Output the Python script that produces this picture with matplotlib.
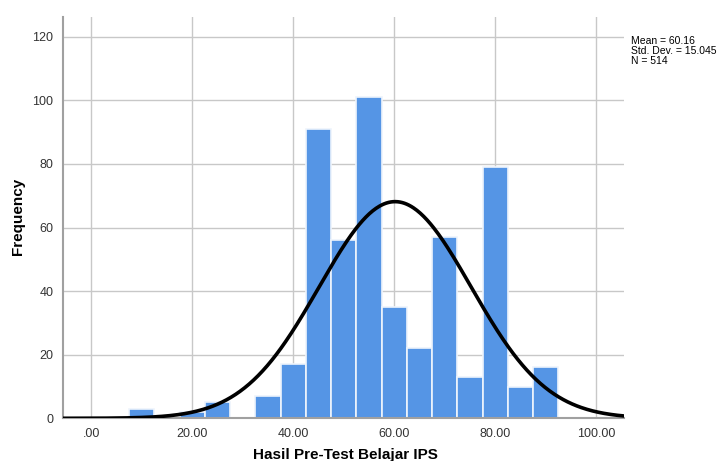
import numpy as np
import matplotlib
matplotlib.use("Agg")
import matplotlib.pyplot as plt

bin_left = [7.5, 17.5, 22.5, 32.5, 37.5, 42.5, 47.5, 52.5, 57.5, 62.5, 67.5, 72.5, 77.5, 82.5, 87.5]
counts = [3, 2, 5, 7, 17, 91, 56, 101, 35, 22, 57, 13, 79, 10, 16]
bin_width = 5.0
mean = 60.16
std = 15.045
n = 514
xticks = [0, 20, 40, 60, 80, 100]
xticklabels = [".00", "20.00", "40.00", "60.00", "80.00", "100.00"]
yticks = [0, 20, 40, 60, 80, 100, 120]

plt.rcParams['font.family'] = ['Liberation Sans', 'DejaVu Sans']
fig = plt.figure(figsize=(7.19, 4.61), dpi=100)
ax = fig.add_axes([0.0876, 0.0926, 0.7804, 0.8704])

ax.bar(bin_left, counts, width=bin_width, align='edge', color='#5595E5',
       edgecolor='#EEF4FC', linewidth=1.2, zorder=2)

xs = np.linspace(-6, 106, 500)
ys = n * bin_width / (std * np.sqrt(2 * np.pi)) * np.exp(-0.5 * ((xs - mean) / std) ** 2)
ax.plot(xs, ys, color='black', linewidth=2.6, zorder=3)

ax.set_xlim(-5.6, 105.5)
ax.set_ylim(0, 126.2)
ax.set_xticks(xticks)
ax.set_xticklabels(xticklabels)
ax.set_yticks(yticks)
ax.grid(True, color='#C8C8C8', linewidth=1.0, zorder=0)
ax.set_axisbelow(True)
ax.tick_params(length=0, labelsize=9, colors='#333333', pad=7)
for s in ['top', 'right']:
    ax.spines[s].set_visible(False)
for s in ['left', 'bottom']:
    ax.spines[s].set_color('#A0A0A0')
    ax.spines[s].set_linewidth(1.5)

fig.text(345/719, 1 - 455/461, "Hasil Pre-Test Belajar IPS", fontsize=11,
         fontweight='bold', ha='center', va='center')
fig.text(18/719, 1 - 216/461, "Frequency", fontsize=11, fontweight='bold',
         ha='center', va='center', rotation=90)

fig.text(631/719, 1 - 36/461, f"Mean = {mean:.2f}\nStd. Dev. = {std:.3f}\nN = {n}",
         fontsize=7.5, va='top', ha='left', linespacing=1.0)

fig.savefig("out.png", dpi=100)
